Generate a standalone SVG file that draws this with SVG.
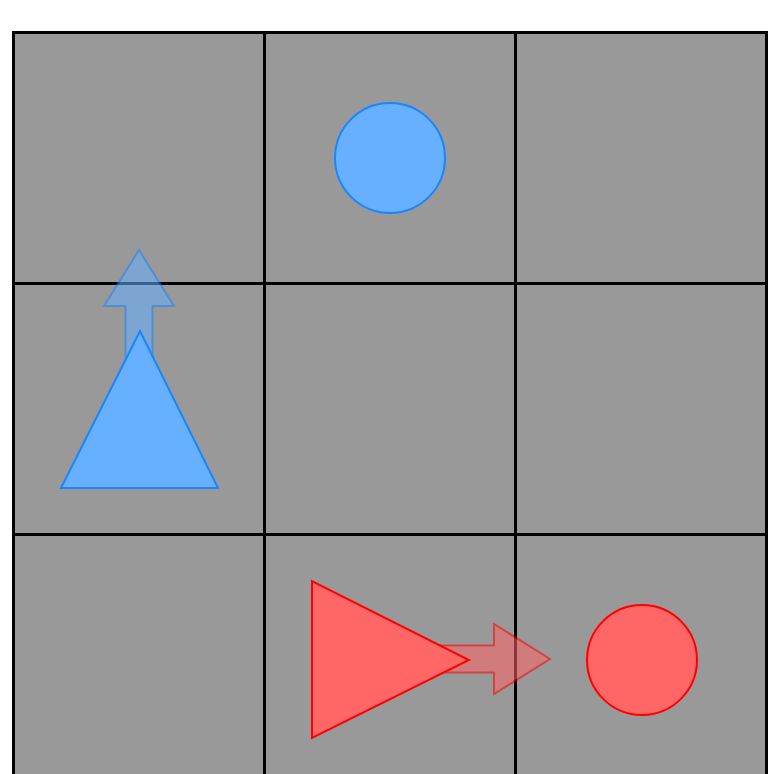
<svg xmlns="http://www.w3.org/2000/svg" width="770" height="774" viewBox="0 0 770 774">
<style>
.cell{fill:#999999;stroke:#000;stroke-width:3}
.blue{fill:#66b0ff;stroke:#1a85ff;stroke-width:2}
.red{fill:#ff6666;stroke:#ff0000;stroke-width:2}
.arrow{opacity:0.55}
</style>
<rect width="770" height="774" fill="#fff"/>
<g id="grid">
<rect class="cell" x="13.5" y="32.5" width="251" height="251"/>
<rect class="cell" x="264.5" y="32.5" width="251" height="251"/>
<rect class="cell" x="515.5" y="32.5" width="251" height="251"/>
<rect class="cell" x="13.5" y="283.5" width="251" height="251"/>
<rect class="cell" x="264.5" y="283.5" width="251" height="251"/>
<rect class="cell" x="515.5" y="283.5" width="251" height="251"/>
<rect class="cell" x="13.5" y="534.5" width="251" height="251"/>
<rect class="cell" x="264.5" y="534.5" width="251" height="251"/>
<rect class="cell" x="515.5" y="534.5" width="251" height="251"/>
</g>
<g id="connectors">
<polygon class="blue arrow" points="125.5,409 125.5,306 104,306 139,250 174,306 152.5,306 152.5,409"/>
<polygon class="red arrow" points="390,645.5 494,645.5 494,624 550,659 494,694 494,672.5 390,672.5"/>
</g>
<g id="blue-circle"><circle class="blue" cx="390" cy="158" r="55"/></g>
<g id="blue-triangle"><polygon class="blue" points="61,488 218,488 140,331"/></g>
<g id="red-triangle"><polygon class="red" points="312,581 312,738 469,660"/></g>
<g id="red-circle"><circle class="red" cx="642" cy="660" r="55"/></g>
</svg>
